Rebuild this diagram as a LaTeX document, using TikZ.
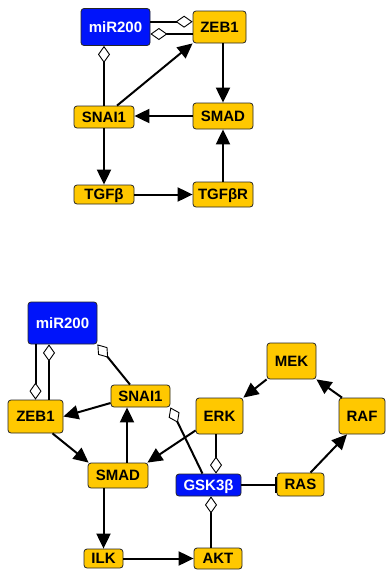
\documentclass[tikz,border=0pt]{standalone}
\usepackage{fontspec}
\setmainfont{Liberation Sans}
\usetikzlibrary{arrows.meta}
\definecolor{genegold}{RGB}{255,200,0}
\definecolor{mirblue}{RGB}{0,20,250}
\begin{document}
\begin{tikzpicture}[x=1pt,y=-1pt,
  box/.style={draw=black!85, line width=0.8pt, rounded corners=3pt, inner sep=0pt,
    text height=10.5pt, text depth=0pt, font=\fontsize{15}{15}\selectfont\bfseries},
  gene/.style={box, fill=genegold, text=black},
  mir/.style={box, fill=mirblue, text=white},
  act/.style={line width=2pt, -{Triangle[length=15pt,width=14pt]}},
  inh/.style={line width=2pt, -{Diamond[fill=white,length=17pt,width=12pt,line width=0.9pt]}},
  blk/.style={line width=2pt, -{Bar[width=16pt,line width=1.5pt]}}]
\useasboundingbox (0,0) rectangle (386,573);

% ---- upper network ----
\node[mir,  minimum width=69pt, minimum height=37pt] (m1)  at (115.5,27)  {miR200};
\node[gene, minimum width=53pt, minimum height=32pt] (z1)  at (219.5,27)  {ZEB1};
\node[gene, minimum width=60pt, minimum height=22pt] (s1)  at (104,117)   {SNAI1};
\node[gene, minimum width=60pt, minimum height=26pt] (sm1) at (223,116)   {SMAD};
\node[gene, minimum width=60pt, minimum height=19pt] (tg)  at (104,194.5) {TGFβ};
\node[gene, minimum width=60pt, minimum height=25pt] (tgr) at (223,194.5) {TGFβR};

\draw[inh] ([yshift=5.3pt]m1.east) -- ([yshift=5.3pt]z1.west);
\draw[inh] ([yshift=-7pt]z1.west) -- ([yshift=-7pt]m1.east);
\draw[inh] (s1.north) -- (s1.north |- m1.south);
\draw[act] ([xshift=13pt]s1.north) -- (z1.south west);
\draw[act] (sm1.north |- z1.south) -- (sm1.north);
\draw[act] (sm1.west) -- (sm1.west -| s1.east);
\draw[act] (s1.south) -- (tg.north);
\draw[act] (tg.east) -- (tgr.west);
\draw[act] (tgr.north) -- (sm1.south);

% ---- lower network ----
\node[mir,  minimum width=69pt, minimum height=42pt] (m2)  at (62.5,323)   {miR200};
\node[gene, minimum width=55pt, minimum height=33pt] (z2)  at (35.5,416.5) {ZEB1};
\node[gene, minimum width=59pt, minimum height=22pt] (s2)  at (140.5,396)  {SNAI1};
\node[gene, minimum width=60pt, minimum height=25pt] (sm2) at (118,475.5)  {SMAD};
\node[mir,  minimum width=65pt, minimum height=22pt] (gsk) at (208.5,485)  {GSK3β};
\node[gene, minimum width=39pt, minimum height=19pt] (ilk) at (103.5,558.5){ILK};
\node[gene, minimum width=48pt, minimum height=21pt] (akt) at (218,558.5)  {AKT};
\node[gene, minimum width=49pt, minimum height=36pt] (mek) at (291.5,361)  {MEK};
\node[gene, minimum width=47pt, minimum height=36pt] (erk) at (219.5,416)  {ERK};
\node[gene, minimum width=46pt, minimum height=36pt] (raf) at (362,416)    {RAF};
\node[gene, minimum width=47pt, minimum height=23pt] (ras) at (300.5,484.5){RAS};

\draw[inh] (z2.north |- m2.south) -- (z2.north);
\draw[inh] ([xshift=13.5pt]z2.north) -- ([xshift=13.5pt]z2.north |- m2.south);
\draw[inh] ([xshift=-10.5pt]s2.north) -- (m2.south east);
\draw[act] ([yshift=-7pt]s2.west) -- (z2.east);
\draw[act] ([xshift=17pt]z2.south) -- ([xshift=1pt]sm2.north west);
\draw[act] ([xshift=9pt]sm2.north) -- ([xshift=9pt]sm2.north |- s2.south);
\draw[act] ([yshift=4pt]erk.south west) -- ([xshift=-1pt]sm2.north east);
\draw[inh] ([xshift=-6pt]gsk.north) -- (s2.south east);
\draw[inh] ([xshift=-3.5pt]erk.south) -- ([xshift=-3.5pt]erk.south |- gsk.north);
\draw[inh] ([xshift=-7pt]akt.north) -- ([xshift=-7pt]akt.north |- gsk.south);
\draw[blk] (gsk.east) -- (gsk.east -| ras.west);
\draw[act] ([xshift=10pt]ras.north) -- ([xshift=-15pt]raf.south);
\draw[act] ([xshift=-20pt]raf.north) -- (mek.south east);
\draw[act] (mek.south west) -- (erk.north east);
\draw[act] (ilk.north |- sm2.south) -- (ilk.north);
\draw[act] (ilk.east) -- (akt.west);
\end{tikzpicture}
\end{document}
